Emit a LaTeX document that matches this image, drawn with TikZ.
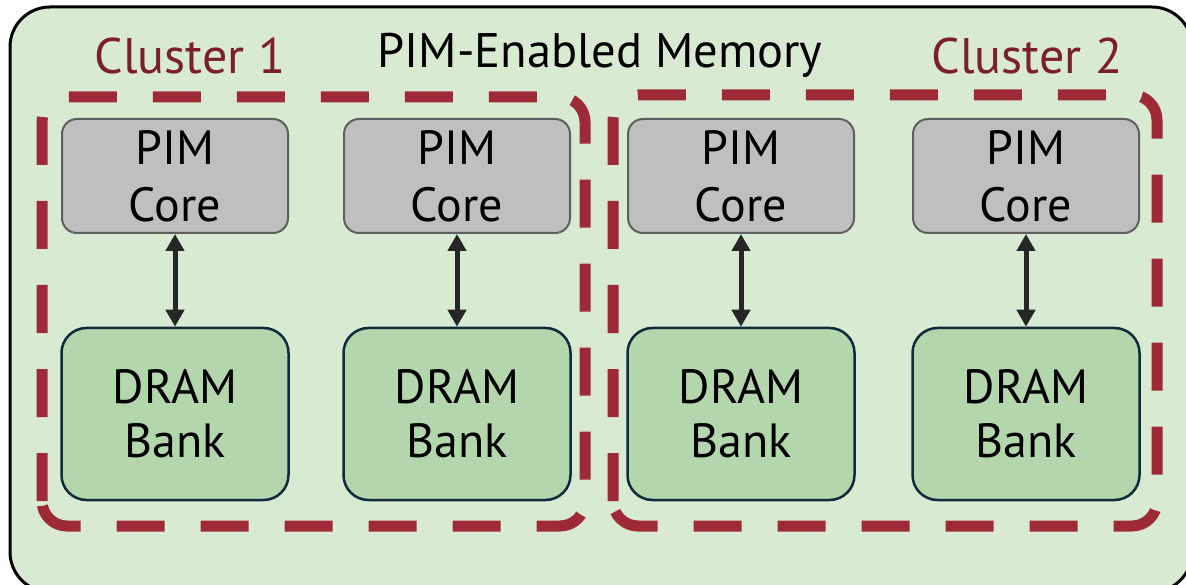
\documentclass[tikz,border=0pt]{standalone}
\usepackage{fontspec}
\setmainfont{PT Sans}
\usetikzlibrary{arrows.meta}
\definecolor{bgG}{HTML}{D9EAD3}
\definecolor{clRed}{HTML}{9E2A37}
\definecolor{clText}{HTML}{7A1F2B}
\definecolor{coreF}{HTML}{BFBFBF}
\definecolor{coreD}{HTML}{5F5F5F}
\definecolor{bankF}{HTML}{B3D6AD}
\definecolor{bankD}{HTML}{0E2A3C}
\definecolor{arr}{HTML}{262626}
\tikzset{
  corebox/.style={draw=coreD, fill=coreF, line width=2pt, rounded corners=15pt,
    minimum width=226pt, minimum height=114pt, inner sep=0pt, align=center,
    font=\fontsize{48}{57}\selectfont},
  bankbox/.style={draw=bankD, fill=bankF, line width=2.5pt, rounded corners=25pt,
    minimum width=227pt, minimum height=172pt, inner sep=0pt, align=center,
    font=\fontsize{48}{54}\selectfont},
  clusterbox/.style={draw=clRed, line width=11pt, rounded corners=25pt,
    dash pattern=on 48pt off 36pt},
  link/.style={draw=arr, line width=5pt, {Triangle[length=17pt,width=18pt]}-{Triangle[length=17pt,width=18pt]}},
  ctitle/.style={text=clText, font=\fontsize{50}{50}\selectfont, anchor=base},
}
\begin{document}
\begin{tikzpicture}[x=1pt,y=-1pt]
\useasboundingbox (0,0) rectangle (1186,585);
\begin{scope}
\clip (0,0) rectangle (1186,585);
\draw[fill=bgG, draw=black, line width=3pt, rounded corners=40pt] (10,7) rectangle (1192,592);
\end{scope}
\draw[clusterbox] (42,526) -- (42,97) -- (585,97) -- (585,526) -- cycle;
\draw[clusterbox] (613,526) -- (613,95) -- (1157,95) -- (1157,526) -- cycle;
\node[ctitle] (t1) at (190,74) {Cluster 1};
\node[ctitle] (t2) at (1027,74) {Cluster 2};
\node[anchor=base, font=\fontsize{48.5}{48}\selectfont] (tm) at (600,68) {PIM-Enabled Memory};
\foreach \i/\x in {1/175,2/457,3/741,4/1026}{
  \node[corebox] (c\i) at (\x,176) {PIM\\Core};
  \node[bankbox] (b\i) at (\x,414) {DRAM\\Bank};
  \draw[link] (c\i.south) -- (b\i.north);
}
\end{tikzpicture}
\end{document}
